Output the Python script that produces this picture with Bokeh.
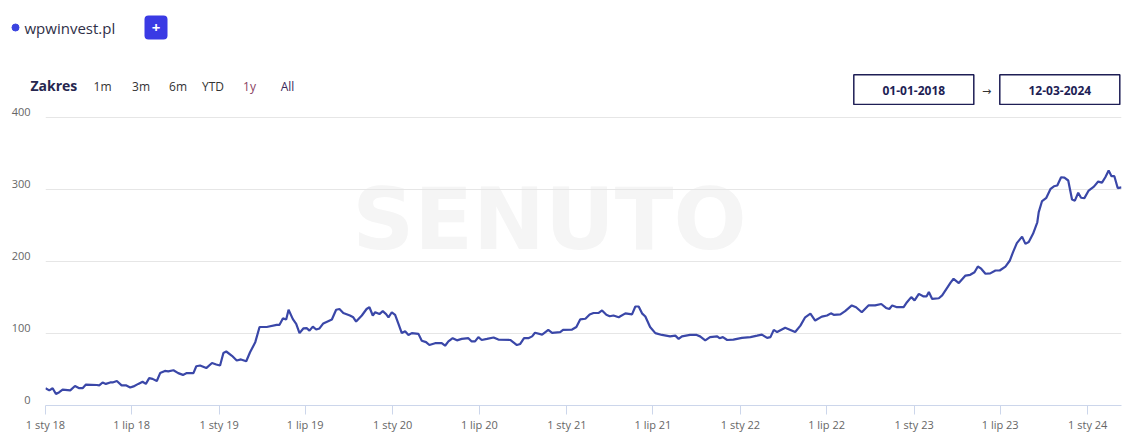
import pandas as pd
from bokeh.plotting import figure
from bokeh.models import Range1d, FixedTicker, Label, ColumnDataSource, LinearAxis
from bokeh.layouts import column
from bokeh.core.properties import value
from bokeh.embed import file_html
from bokeh.resources import INLINE

# ---------------- data ----------------
series_name = "wpwinvest.pl"
range_buttons = ["1m", "3m", "6m", "YTD", "1y", "All"]
range_title = "Zakres"
date_from = "01-01-2018"
date_to = "12-03-2024"

dates = [
    "2018-01-01", "2018-01-09", "2018-01-16", "2018-01-23", "2018-01-30", "2018-02-06", "2018-02-22",
    "2018-03-04", "2018-03-13", "2018-03-20", "2018-03-27", "2018-04-19", "2018-04-24", "2018-05-01",
    "2018-05-08", "2018-05-17", "2018-05-22", "2018-05-31", "2018-06-10", "2018-06-19", "2018-06-28",
    "2018-07-05", "2018-07-15", "2018-07-24", "2018-07-31", "2018-08-07", "2018-08-14", "2018-08-23",
    "2018-08-30", "2018-09-09", "2018-09-16", "2018-09-27", "2018-10-07", "2018-10-17", "2018-10-25",
    "2018-11-08", "2018-11-14", "2018-11-22", "2018-12-05", "2018-12-17", "2018-12-26", "2019-01-03",
    "2019-01-10", "2019-01-16", "2019-01-28", "2019-02-07", "2019-02-16", "2019-02-27", "2019-03-07",
    "2019-03-18", "2019-03-27", "2019-04-11", "2019-05-02", "2019-05-08", "2019-05-15", "2019-05-22",
    "2019-05-27", "2019-06-05", "2019-06-12", "2019-06-19", "2019-06-27", "2019-07-04", "2019-07-10",
    "2019-07-17", "2019-07-24", "2019-07-31", "2019-08-08", "2019-08-26", "2019-09-04", "2019-09-11",
    "2019-09-19", "2019-10-03", "2019-10-10", "2019-10-16", "2019-10-28", "2019-11-07", "2019-11-13",
    "2019-11-20", "2019-11-25", "2019-12-04", "2019-12-11", "2019-12-18", "2019-12-23", "2019-12-30",
    "2020-01-06", "2020-01-13", "2020-01-20", "2020-01-27", "2020-02-03", "2020-02-10", "2020-02-24",
    "2020-03-02", "2020-03-11", "2020-03-18", "2020-03-30", "2020-04-13", "2020-04-20", "2020-04-27",
    "2020-05-06", "2020-05-15", "2020-05-25", "2020-06-08", "2020-06-15", "2020-06-22", "2020-06-29",
    "2020-07-06", "2020-07-17", "2020-07-31", "2020-08-10", "2020-09-04", "2020-09-10", "2020-09-18",
    "2020-09-25", "2020-10-03", "2020-10-12", "2020-10-20", "2020-10-26", "2020-11-10", "2020-11-23",
    "2020-12-01", "2020-12-18", "2020-12-24", "2021-01-12", "2021-01-21", "2021-01-29", "2021-02-09",
    "2021-02-18", "2021-02-26", "2021-03-09", "2021-03-16", "2021-03-25", "2021-04-01", "2021-04-09",
    "2021-04-20", "2021-05-04", "2021-05-18", "2021-05-25", "2021-06-01", "2021-06-08", "2021-06-15",
    "2021-06-25", "2021-07-06", "2021-07-20", "2021-08-06", "2021-08-17", "2021-08-24", "2021-08-31",
    "2021-09-17", "2021-10-01", "2021-10-08", "2021-10-19", "2021-10-29", "2021-11-13", "2021-11-18",
    "2021-11-25", "2021-12-04", "2021-12-17", "2022-01-04", "2022-01-22", "2022-02-05", "2022-02-15",
    "2022-02-26", "2022-03-05", "2022-03-12", "2022-03-19", "2022-04-05", "2022-04-16", "2022-04-26",
    "2022-05-07", "2022-05-17", "2022-05-28", "2022-06-07", "2022-06-21", "2022-07-02", "2022-07-10",
    "2022-07-16", "2022-07-30", "2022-08-09", "2022-08-23", "2022-09-01", "2022-09-13", "2022-09-27",
    "2022-10-11", "2022-10-24", "2022-11-03", "2022-11-10", "2022-11-16", "2022-11-26", "2022-12-10",
    "2022-12-17", "2022-12-26", "2023-01-02", "2023-01-11", "2023-01-21", "2023-01-27", "2023-02-01",
    "2023-02-08", "2023-02-22", "2023-03-01", "2023-03-10", "2023-03-19", "2023-03-25", "2023-04-05",
    "2023-04-19", "2023-04-29", "2023-05-08", "2023-05-15", "2023-05-22", "2023-05-31", "2023-06-10",
    "2023-06-21", "2023-06-30", "2023-07-12", "2023-07-21", "2023-07-28", "2023-08-05", "2023-08-16",
    "2023-08-23", "2023-08-30", "2023-09-08", "2023-09-17", "2023-09-20", "2023-09-27", "2023-10-06",
    "2023-10-15", "2023-10-22", "2023-10-29", "2023-11-06", "2023-11-13", "2023-11-21", "2023-11-29",
    "2023-12-05", "2023-12-12", "2023-12-18", "2023-12-25", "2024-01-03", "2024-01-14", "2024-01-23",
    "2024-01-31", "2024-02-07", "2024-02-14", "2024-02-20", "2024-02-26", "2024-03-04", "2024-03-12",
]

visibility = [
    24, 21, 24, 16, 18.5, 22, 21,
    27, 24, 24, 29, 28.5, 28, 32,
    30, 32, 32, 34, 28, 28, 25,
    26.5, 30, 33, 30, 38, 37, 34,
    45, 48, 47.5, 49, 45, 42.5, 45,
    45, 54.5, 55.5, 52, 59, 57, 55.5,
    73, 75, 69, 62.5, 64, 61.5, 74,
    88, 109, 109, 112, 112, 121, 119.5,
    133, 120, 113.5, 100.5, 107, 107.5, 104,
    109.5, 105.5, 107, 114, 119.5, 133, 134,
    128.5, 125, 122.5, 116.5, 125, 134, 136.5,
    125, 129.5, 127, 131, 127, 122.5, 129.5,
    126, 113.5, 100.5, 103, 98, 100.5, 99.5,
    90, 88, 84, 86.5, 86.5, 83, 89,
    93.5, 90.5, 92.5, 93.5, 89, 89, 95,
    91, 92.5, 94.5, 91.5, 91, 88, 84,
    85.5, 93.5, 93.5, 96, 101, 98.5, 105,
    101, 102, 105, 105.5, 109, 119.5, 120.5,
    126.5, 128.5, 128.5, 132, 126, 124, 125,
    122.5, 128, 126.5, 137.5, 137.5, 128, 123.5,
    109, 100.5, 98, 96, 97, 92.5, 96,
    98, 98, 96, 90.5, 95, 96, 93.5,
    95, 91, 91.5, 94, 95, 97, 98.5,
    94, 95, 105, 102, 108, 105, 102,
    111, 122.5, 127.5, 118, 123.5, 125, 128,
    126, 126.5, 131, 139, 136.5, 129.5, 139,
    139, 141, 135.5, 134, 139, 136.5, 136.5,
    143.5, 150.5, 146, 155, 151.5, 151.5, 157.5,
    148, 149, 153, 162, 171, 176, 170,
    180.5, 181.5, 185, 193, 190, 183, 183.5,
    187.5, 187.5, 193, 201, 213, 225.5, 234.5,
    224.5, 227, 238.5, 254.5, 268.5, 284, 288.5,
    301, 304.5, 305.5, 317, 316.5, 312.5, 286,
    284.5, 295.5, 288.5, 288, 298.5, 304, 311,
    309.5, 317, 326.5, 318.5, 318.5, 302, 303,
]

tick_dates = ["2018-01-01", "2018-07-01", "2019-01-01", "2019-07-01", "2020-01-01", "2020-07-01",
              "2021-01-01", "2021-07-01", "2022-01-01", "2022-07-01", "2023-01-01", "2023-07-01",
              "2024-01-01"]
tick_labels = ["1 sty 18", "1 lip 18", "1 sty 19", "1 lip 19", "1 sty 20", "1 lip 20",
               "1 sty 21", "1 lip 21", "1 sty 22", "1 lip 22", "1 sty 23", "1 lip 23",
               "1 sty 24"]
y_ticks = [0, 100, 200, 300, 400]

# ---------------- style ----------------
FONT = "Open Sans"
W = 1132
HDR_H = 105
MAIN_H = 330
PX_PER_100 = 72        # vertical scale of the chart
LABEL_LIFT_PX = 6      # y labels sit slightly above their grid lines
LINE_COLOR = "#3a47a8"
NAVY = "#1e1e55"

# ---------------- header (legend, range selector, date inputs) ----------------
hdr = figure(width=W, height=HDR_H, x_range=Range1d(0, W), y_range=Range1d(HDR_H, 0),
             toolbar_location=None, tools="", output_backend="svg",
             x_axis_location=None, y_axis_location=None, min_border=0)
hdr.frame_align = False
hdr.outline_line_color = None
hdr.xgrid.visible = False
hdr.ygrid.visible = False

hdr.scatter(x=[15], y=[27], size=7, color="#3b44e0")
hdr.text(x=[24], y=[27.5], text=[series_name], text_baseline="middle", text_align="left",
         text_font=value(FONT), text_font_size="15px", text_color="#2f2f47")

hdr.quad(left=[144], right=[167], top=[15], bottom=[39], fill_color="#3a3ae4",
         line_color=None, border_radius=4)
hdr.text(x=[155.5], y=[27.5], text=["+"], text_baseline="middle", text_align="center",
         text_font=value(FONT), text_font_size="15px", text_font_style="bold", text_color="white")

hdr.text(x=[30], y=[85], text=[range_title], text_baseline="middle", text_align="left",
         text_font=value(FONT), text_font_size="14px", text_font_style="bold", text_color="#26264f")
btn_x = [102, 140.5, 177.5, 212.5, 249, 287]
btn_colors = ["#333333", "#333333", "#333333", "#333333", "#8a3f63", "#3a2a5a"]
hdr.text(x=btn_x, y=[86] * len(btn_x), text=range_buttons, text_baseline="middle",
         text_align="center", text_font=value(FONT), text_font_size="12px", text_color=btn_colors)

hdr.quad(left=[853.3, 999.3], right=[973.3, 1119.3], top=[74.3, 74.3], bottom=[104, 104],
         fill_color="white", line_color=NAVY, line_width=1.5)
hdr.text(x=[913.3, 1059.3], y=[89.5, 89.5], text=[date_from, date_to], text_baseline="middle",
         text_align="center", text_font=value(FONT), text_font_size="12px",
         text_font_style="bold", text_color=NAVY)
hdr.text(x=[986], y=[91], text=["\u2192"], text_baseline="middle", text_align="center",
         text_font=value("DejaVu Sans"), text_font_size="11px", text_color="#333333")

# ---------------- main chart ----------------
x = pd.to_datetime(dates)
src = ColumnDataSource(dict(x=x, y=visibility))

y0, y1 = y_ticks[0], y_ticks[-1]
lift = LABEL_LIFT_PX * 100 / PX_PER_100

p = figure(width=W, height=MAIN_H, x_axis_type="datetime",
           x_range=Range1d(x[0], x[-1]), y_range=Range1d(y0, y1 + lift),
           toolbar_location=None, tools="", output_backend="svg",
           min_border_left=45, min_border_right=11, min_border_top=6, min_border_bottom=30)
p.frame_align = False
p.outline_line_color = None
p.background_fill_color = "white"

wm = Label(x=549, y=113, x_units="canvas", y_units="canvas", text="SENUTO",
           text_align="center", text_baseline="middle", text_font="DejaVu Sans",
           text_font_size="86px", text_font_style="bold", text_color="#f5f5f5", level="image")
p.add_layout(wm)

p.line("x", "y", source=src, line_color=LINE_COLOR, line_width=2.2)

tick_ms = [pd.Timestamp(t).timestamp() * 1000 for t in tick_dates]
xa = p.xaxis[0]
xa.ticker = FixedTicker(ticks=tick_ms)
xa.major_label_overrides = {t: l for t, l in zip(tick_ms, tick_labels)}
xa.axis_line_color = "#ccd6eb"
xa.major_tick_line_color = "#ccd6eb"
xa.major_tick_in = 0
xa.major_tick_out = 9
xa.minor_tick_line_color = None
xa.major_label_standoff = 2
xa.major_label_text_font = FONT
xa.major_label_text_font_size = "11px"
xa.major_label_text_color = "#666666"

# main y axis only drives the grid; its labels come from a lifted twin axis
ya = p.yaxis[0]
ya.ticker = FixedTicker(ticks=y_ticks)
ya.visible = False

p.extra_y_ranges = {"labels": Range1d(y0 - lift, y1)}
ly = LinearAxis(y_range_name="labels", ticker=FixedTicker(ticks=y_ticks))
ly.axis_line_color = None
ly.major_tick_line_color = None
ly.minor_tick_line_color = None
ly.major_tick_in = 0
ly.major_tick_out = 0
ly.major_label_standoff = 15
ly.major_label_text_font = FONT
ly.major_label_text_font_size = "11px"
ly.major_label_text_color = "#666666"
p.add_layout(ly, "left")

p.xgrid.visible = False
p.ygrid.ticker = FixedTicker(ticks=y_ticks)
p.ygrid.grid_line_color = "#e6e6e6"
p.ygrid.grid_line_width = 1

layout = column(hdr, p, spacing=0)
open("out.html", "w").write(file_html(layout, INLINE))
